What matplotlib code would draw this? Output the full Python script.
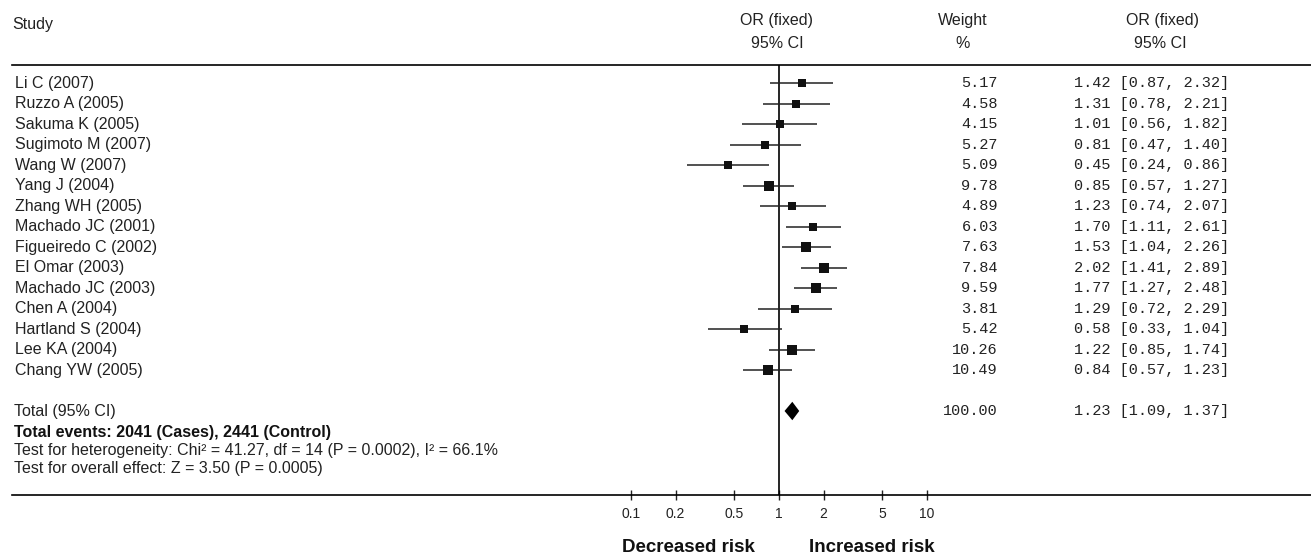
import numpy as np
import matplotlib
matplotlib.use('Agg')
import matplotlib.pyplot as plt
from matplotlib.transforms import blended_transform_factory

plt.rcParams['font.family'] = ['Liberation Sans', 'DejaVu Sans']

# study data
studies = ['Li C (2007)', 'Ruzzo A (2005)', 'Sakuma K (2005)', 'Sugimoto M (2007)',
           'Wang W (2007)', 'Yang J (2004)', 'Zhang WH (2005)', 'Machado JC (2001)',
           'Figueiredo C (2002)', 'El Omar (2003)', 'Machado JC (2003)', 'Chen A (2004)',
           'Hartland S (2004)', 'Lee KA (2004)', 'Chang YW (2005)']
odds = [1.42, 1.31, 1.01, 0.81, 0.45, 0.85, 1.23, 1.70, 1.53, 2.02, 1.77, 1.29, 0.58, 1.22, 0.84]
ci_low = [0.87, 0.78, 0.56, 0.47, 0.24, 0.57, 0.74, 1.11, 1.04, 1.41, 1.27, 0.72, 0.33, 0.85, 0.57]
ci_high = [2.32, 2.21, 1.82, 1.40, 0.86, 1.27, 2.07, 2.61, 2.26, 2.89, 2.48, 2.29, 1.04, 1.74, 1.23]
weights = [5.17, 4.58, 4.15, 5.27, 5.09, 9.78, 4.89, 6.03, 7.63, 7.84, 9.59, 3.81, 5.42, 10.26, 10.49]

total_or = 1.23
total_low = 1.09
total_high = 1.37
total_weight = 100.00

ticks = [0.1, 0.2, 0.5, 1, 2, 5, 10]
tick_labels = ['0.1', '0.2', '0.5', '1', '2', '5', '10']

W, H = 1311, 558
fig = plt.figure(figsize=(W / 100, H / 100), dpi=100)

def fx(px):
    return px / W

def fy(py):
    return 1 - py / H

# forest axes: spans from header line to bottom axis line
ax_left, ax_right, ax_top, ax_bottom = 12, 1311, 65, 495
ax = fig.add_axes([fx(ax_left), fy(ax_bottom), fx(ax_right - ax_left), (ax_bottom - ax_top) / H])
ax.set_xscale('log')
# value 1 sits at x=779 px, one decade is 148 px
x_one, decade = 779, 148
ax.set_xlim(10 ** ((ax_left - x_one) / decade), 10 ** ((ax_right - x_one) / decade))
row0, row_step = 83, 20.5
ax.set_ylim((ax_bottom - row0) / row_step, (ax_top - row0) / row_step)

for s in ['left', 'right']:
    ax.spines[s].set_visible(False)
ax.spines['top'].set_linewidth(1.2)
ax.spines['bottom'].set_linewidth(1.2)
ax.set_yticks([])
ax.set_xticks(ticks)
ax.set_xticklabels(tick_labels)
ax.xaxis.set_minor_locator(matplotlib.ticker.NullLocator())
ax.tick_params(axis='x', direction='inout', length=7, width=1, labelsize=10, pad=5, colors='#222222')

rows = np.arange(len(studies))
ax.axvline(1, color='black', lw=1.2)
ax.hlines(rows, ci_low, ci_high, color='#222222', lw=1.1)
for r, o, w in zip(rows, odds, weights):
    ax.plot(o, r, marker='s', color='#111111', ms=5.8 + 0.1 * w, mew=0, linestyle='none')

# total diamond
total_row = len(studies) + 1
ax.fill([total_low, total_or, total_high, total_or],
        [total_row, total_row - 0.45, total_row, total_row + 0.45], color='black', lw=0)

# text columns
tr = blended_transform_factory(fig.transFigure, ax.transData)
mono = 'Liberation Mono'
fs = 11.5
for r, name, w, o, lo, hi in zip(rows, studies, weights, odds, ci_low, ci_high):
    fig.text(fx(15), r, name, transform=tr, fontsize=fs, va='center', ha='left', color='#222222')
    fig.text(fx(998), r, f'{w:.2f}', transform=tr, fontsize=11, family=mono, va='center', ha='right', color='#222222')
    fig.text(fx(1229), r, f'{o:.2f} [{lo:.2f}, {hi:.2f}]', transform=tr, fontsize=11, family=mono,
             va='center', ha='right', color='#222222')

fig.text(fx(14), total_row, 'Total (95% CI)', transform=tr, fontsize=fs, va='center', color='#222222')
fig.text(fx(998), total_row, f'{total_weight:.2f}', transform=tr, fontsize=11, family=mono, va='center', ha='right', color='#222222')
fig.text(fx(1229), total_row, f'{total_or:.2f} [{total_low:.2f}, {total_high:.2f}]', transform=tr,
         fontsize=11, family=mono, va='center', ha='right', color='#222222')

# headers
fig.text(fx(12), fy(25), 'Study', fontsize=fs, va='center', color='#222222')
fig.text(fx(777), fy(20), 'OR (fixed)', fontsize=fs, va='center', ha='center', color='#222222')
fig.text(fx(777), fy(43), '95% CI', fontsize=fs, va='center', ha='center', color='#222222')
fig.text(fx(963), fy(20), 'Weight', fontsize=fs, va='center', ha='center', color='#222222')
fig.text(fx(963), fy(43), '%', fontsize=fs, va='center', ha='center', color='#222222')
fig.text(fx(1162), fy(20), 'OR (fixed)', fontsize=fs, va='center', ha='center', color='#222222')
fig.text(fx(1160), fy(43), '95% CI', fontsize=fs, va='center', ha='center', color='#222222')

# summary statistics
fig.text(fx(14), fy(433), 'Total events: 2041 (Cases), 2441 (Control)', fontsize=fs, weight='bold',
         va='center', color='#111111')
fig.text(fx(14), fy(451), 'Test for heterogeneity: Chi² = 41.27, df = 14 (P = 0.0002), I² = 66.1%',
         fontsize=fs, va='center', color='#222222')
fig.text(fx(14), fy(469), 'Test for overall effect: Z = 3.50 (P = 0.0005)', fontsize=fs, va='center', color='#222222')

fig.text(fx(688), fy(548), 'Decreased risk', fontsize=13.5, weight='bold', va='center', ha='center', color='#111111')
fig.text(fx(872), fy(548), 'Increased risk', fontsize=13.5, weight='bold', va='center', ha='center', color='#111111')

fig.savefig('out.png', dpi=100)
